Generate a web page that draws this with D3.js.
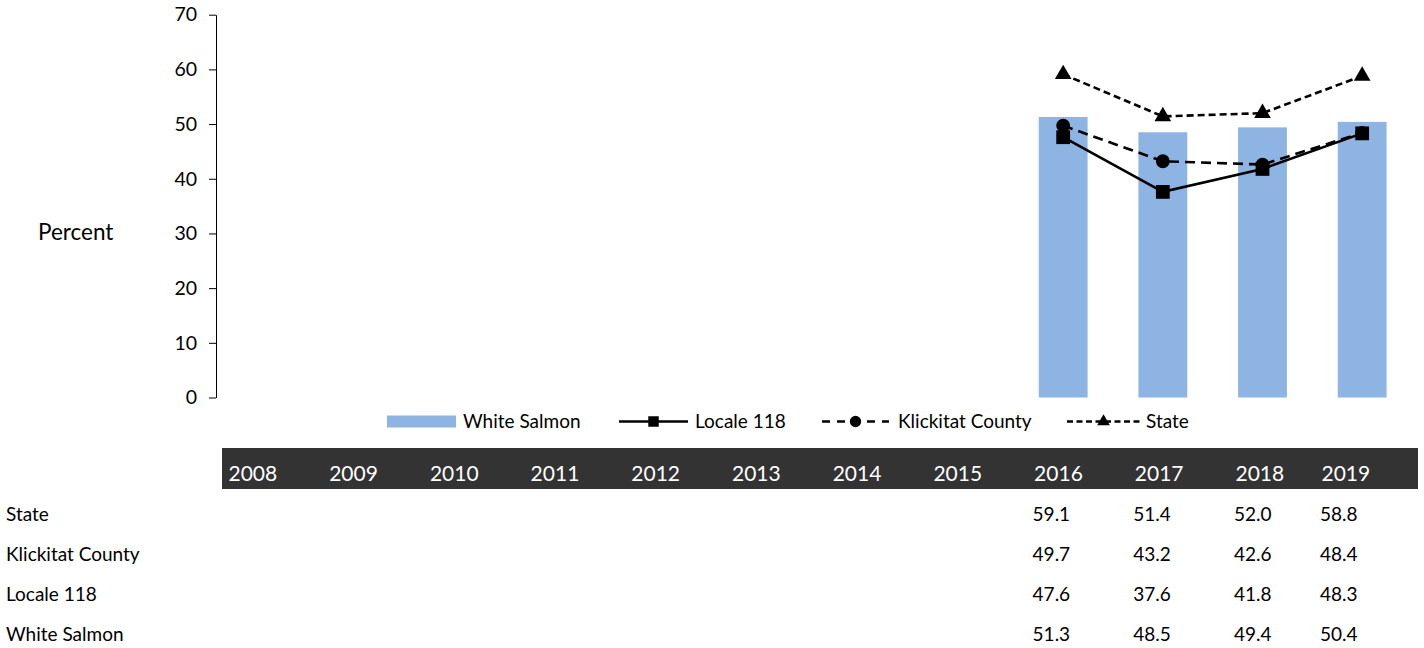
<!DOCTYPE html>
<html>
<head>
<meta charset="utf-8">
<script src="https://cdn.jsdelivr.net/npm/d3@7"></script>
<style>
  html, body { margin: 0; padding: 0; background: #fff; }
  svg { display: block; font-family: Lato, "Open Sans", sans-serif; }
</style>
</head>
<body>
<svg id="chart" width="1424" height="648"></svg>
<script>
const years = ["2008","2009","2010","2011","2012","2013","2014","2015","2016","2017","2018","2019"];
const yTicks = [0, 10, 20, 30, 40, 50, 60, 70];
const whiteSalmon = [null,null,null,null,null,null,null,null,51.3,48.5,49.4,50.4];
const locale118   = [null,null,null,null,null,null,null,null,47.6,37.6,41.8,48.3];
const klickitat   = [null,null,null,null,null,null,null,null,49.7,43.2,42.6,48.4];
const state       = [null,null,null,null,null,null,null,null,59.1,51.4,52.0,58.8];
const seriesNames = ["White Salmon","Locale 118","Klickitat County","State"];
const tableRows = [
  {name: "State", values: state},
  {name: "Klickitat County", values: klickitat},
  {name: "Locale 118", values: locale118},
  {name: "White Salmon", values: whiteSalmon}
];

const svg = d3.select("#chart");
const FS = 19;

const x = d3.scaleBand().domain(years).range([216, 1412]).paddingInner(0.51).paddingOuter(0.255);
const y = d3.scaleLinear().domain([0, 70]).range([397.5, 14.7]);

// y axis
const yAxis = svg.append("g").attr("transform", "translate(216,0)")
  .call(d3.axisLeft(y).tickValues(yTicks).tickSize(7).tickPadding(12).tickSizeOuter(0));
yAxis.select(".domain").attr("stroke", "#000").attr("stroke-width", 1);
yAxis.selectAll(".tick line").attr("stroke", "#000");
yAxis.selectAll("text").attr("font-family", "Lato, sans-serif").attr("font-size", 19.5).attr("fill", "#000");

svg.append("text").attr("x", 38).attr("y", 240).attr("font-size", 22.5).attr("fill", "#000").text("Percent");

// bars
const barColor = "#8EB4E3";
svg.append("g").selectAll("rect")
  .data(years.map((yr, i) => ({yr, v: whiteSalmon[i]})).filter(d => d.v != null))
  .join("rect")
  .attr("x", d => x(d.yr)).attr("width", x.bandwidth())
  .attr("y", d => y(d.v)).attr("height", d => y(0) - y(d.v))
  .attr("fill", barColor);

const cx = yr => x(yr) + x.bandwidth() / 2;
const line = d3.line().defined(d => d.v != null).x(d => cx(d.yr)).y(d => y(d.v));
const toPts = arr => years.map((yr, i) => ({yr, v: arr[i]}));

const lineDefs = [
  {data: state, dash: "7,4", sym: d3.symbolTriangle, size: 120},
  {data: klickitat, dash: "10,6", sym: d3.symbolCircle, size: 150},
  {data: locale118, dash: null, sym: d3.symbolSquare, size: 190}
];
lineDefs.forEach(def => {
  const pts = toPts(def.data);
  const p = svg.append("path").datum(pts).attr("d", line)
    .attr("fill", "none").attr("stroke", "#000").attr("stroke-width", 2.6);
  if (def.dash) p.attr("stroke-dasharray", def.dash);
});
lineDefs.forEach(def => {
  const pts = toPts(def.data).filter(d => d.v != null);
  svg.append("g").selectAll("path").data(pts).join("path")
    .attr("transform", d => `translate(${cx(d.yr)},${y(d.v)})`)
    .attr("d", d3.symbol().type(def.sym).size(def.size)).attr("fill", "#000");
});

// legend
const lg = svg.append("g");
const ly = 421.5;
lg.append("rect").attr("x", 387).attr("y", ly - 6).attr("width", 69).attr("height", 12).attr("fill", barColor);
lg.append("text").attr("x", 463).attr("y", ly + 6.5).attr("font-size", FS).text(seriesNames[0]);

lg.append("line").attr("x1", 619).attr("x2", 688).attr("y1", ly).attr("y2", ly).attr("stroke", "#000").attr("stroke-width", 2.6);
lg.append("path").attr("transform", `translate(653.5,${ly})`).attr("d", d3.symbol().type(d3.symbolSquare).size(110)).attr("fill", "#000");
lg.append("text").attr("x", 695).attr("y", ly + 6.5).attr("font-size", FS).text(seriesNames[1]);

lg.append("line").attr("x1", 822).attr("x2", 889).attr("y1", ly).attr("y2", ly).attr("stroke", "#000").attr("stroke-width", 2.6).attr("stroke-dasharray", "8,7");
lg.append("path").attr("transform", `translate(855.5,${ly})`).attr("d", d3.symbol().type(d3.symbolCircle).size(100)).attr("fill", "#000");
lg.append("text").attr("x", 898).attr("y", ly + 6.5).attr("font-size", FS).text(seriesNames[2]);

lg.append("line").attr("x1", 1067).attr("x2", 1140).attr("y1", ly).attr("y2", ly).attr("stroke", "#000").attr("stroke-width", 2.6).attr("stroke-dasharray", "6,3.5");
lg.append("path").attr("transform", `translate(1103.5,${ly})`).attr("d", d3.symbol().type(d3.symbolTriangle).size(70)).attr("fill", "#000");
lg.append("text").attr("x", 1146).attr("y", ly + 6.5).attr("font-size", FS).text(seriesNames[3]);

// table
const colX = i => (i < 11 ? 222 + 100.7 * i : 1315);
svg.append("rect").attr("x", 222).attr("y", 448).attr("width", 1196).attr("height", 41).attr("fill", "#333333");
svg.append("g").selectAll("text").data(years).join("text")
  .attr("x", (d, i) => colX(i) + 6.5).attr("y", 480.5)
  .attr("font-size", 21).attr("fill", "#fff").text(d => d);

tableRows.forEach((row, r) => {
  const by = 521 + r * 40;
  svg.append("text").attr("x", 6).attr("y", by).attr("font-size", FS).attr("fill", "#000").text(row.name);
  svg.append("g").selectAll("text").data(row.values.map((v, i) => ({v, i})).filter(d => d.v != null)).join("text")
    .attr("x", d => colX(d.i) + 5).attr("y", by).attr("font-size", FS).attr("fill", "#000")
    .text(d => d.v.toFixed(1));
});
</script>
</body>
</html>
